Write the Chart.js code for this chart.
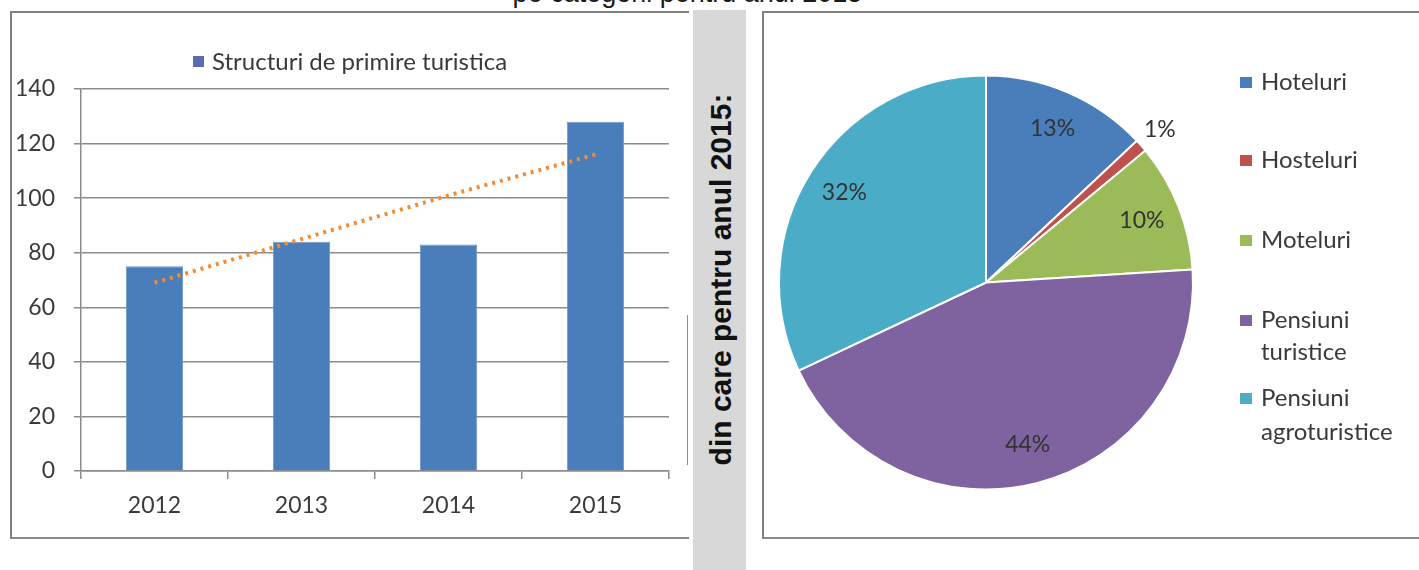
<!DOCTYPE html>
<html>
<head>
<meta charset="utf-8">
<script src="https://cdn.jsdelivr.net/npm/chart.js@4/dist/chart.umd.min.js"></script>
<style>
  html, body { margin: 0; padding: 0; background: #fff; }
  body { width: 1419px; height: 570px; position: relative; overflow: hidden; font-family: Lato, sans-serif; }
  #toptext { position: absolute; left: 0; width: 1375px; top: -20px; line-height: 27px; text-align: center;
             font-family: "Liberation Sans", Arial, sans-serif; font-size: 27px; color: #1a1a1a; z-index: 0; }
  .panel { position: absolute; background: #fff; z-index: 1; box-sizing: border-box; }
  #leftPanel { left: 10px; top: 11px; width: 679px; height: 528px; border-left: 2px solid #808080; border-top: 2px solid #808080; border-bottom: 2px solid #8c8c8c; }
  #leftEdge { position: absolute; left: 687px; top: 315px; width: 1px; height: 150px; background: #8a8a8a; z-index: 2; }
  #rightPanel { left: 762px; top: 11px; width: 670px; height: 528px; border-left: 2px solid #808080; border-top: 2px solid #808080; border-bottom: 2px solid #8c8c8c; }
  #strip { position: absolute; left: 693px; top: 10px; width: 53px; height: 560px; background: #d8d8d8; z-index: 1; }
  #stripText { position: absolute; left: 519.5px; top: 252.5px; width: 400px; height: 53px; line-height: 53px; text-align: center;
               transform: rotate(-90deg); font-family: "Liberation Sans", Arial, sans-serif; font-weight: bold; font-size: 30px; color: #111; z-index: 2; white-space: nowrap; }
  canvas { position: absolute; z-index: 2; }
  #barCanvas { left: 12px; top: 13px; }
  #pieCanvas { left: 764px; top: 13px; }
</style>
</head>
<body>
<div id="toptext">pe categorii pentru anul 2015</div>
<div class="panel" id="leftPanel"></div>
<div id="leftEdge"></div>
<div id="strip"></div>
<div id="stripText">din care pentru anul 2015:</div>
<div class="panel" id="rightPanel"></div>
<canvas id="barCanvas" width="674" height="522"></canvas>
<canvas id="pieCanvas" width="655" height="522"></canvas>
<script>
// ---- data ----
const years = ['2012', '2013', '2014', '2015'];
const structuriValues = [75, 84, 83, 128];
const trendValues = [69, 85, 101, 116];
const barSeriesName = 'Structuri de primire turistica';
const yTicks = [0, 20, 40, 60, 80, 100, 120, 140];

const pieCategories = [['Hoteluri'], ['Hosteluri'], ['Moteluri'], ['Pensiuni', 'turistice'], ['Pensiuni', 'agroturistice']];
const piePercents = [13, 1, 10, 44, 32];
const pieColors = ['#4a7ebb', '#c0504d', '#9bbb59', '#7f63a1', '#4aacc6'];

const FONT = 'Lato, "Open Sans", sans-serif';
const TEXT = '#3a3a3a';

// ---- bar chart ----
const barLegendPlugin = {
  id: 'barLegend',
  afterDraw(chart) {
    const ctx = chart.ctx;
    ctx.save();
    const ds = chart.data.datasets[0];
    ctx.fillStyle = '#5b6cae';
    ctx.fillRect(181, 43, 11, 11);
    ctx.fillStyle = TEXT;
    ctx.font = '24px ' + FONT;
    ctx.textBaseline = 'middle';
    ctx.textAlign = 'left';
    ctx.fillText(ds.label, 200, 49);
    ctx.restore();
  }
};

new Chart(document.getElementById('barCanvas'), {
  data: {
    labels: years,
    datasets: [
      { type: 'bar', label: barSeriesName, data: structuriValues, backgroundColor: '#4a7ebb',
        borderColor: '#6f97c9', borderWidth: 1, categoryPercentage: 1, barPercentage: 0.39, order: 2 },
      { type: 'line', label: 'trend', data: trendValues, borderColor: '#f58a2e', borderWidth: 4,
        borderDash: [3, 5], pointRadius: 0, fill: false, tension: 0, order: 1 }
    ]
  },
  options: {
    responsive: false, animation: false, devicePixelRatio: 1,
    layout: { padding: { top: 76, right: 17, bottom: 0, left: 0 } },
    plugins: { legend: { display: false }, tooltip: { enabled: false } },
    scales: {
      x: {
        grid: { display: true, drawOnChartArea: false, drawTicks: true, tickLength: 8, color: '#8c8c8c', lineWidth: 1.5, offset: true },
        border: { display: true, color: '#8c8c8c', width: 1.5 },
        ticks: { color: TEXT, font: { family: FONT, size: 23 }, padding: 13 },
        afterFit: (s) => { s.height = 64; }
      },
      y: {
        min: 0, max: 140,
        afterBuildTicks: (s) => { s.ticks = yTicks.map(v => ({ value: v })); },
        grid: { color: '#8c8c8c', lineWidth: 1.5, tickLength: 7 },
        border: { display: true, color: '#8c8c8c', width: 1.5 },
        ticks: { color: TEXT, font: { family: FONT, size: 23 }, padding: 19 },
        afterFit: (s) => { s.width = 69; }
      }
    }
  },
  plugins: [barLegendPlugin]
});

// ---- pie chart ----
const pieExtrasPlugin = {
  id: 'pieExtras',
  afterDraw(chart) {
    const ctx = chart.ctx;
    const meta = chart.getDatasetMeta(0);
    const data = chart.data.datasets[0].data;
    ctx.save();
    ctx.font = '23px ' + FONT;
    ctx.fillStyle = '#333';
    ctx.textAlign = 'center';
    ctx.textBaseline = 'middle';
    meta.data.forEach((arc, i) => {
      const mid = (arc.startAngle + arc.endAngle) / 2;
      const f = data[i] < 3 ? 1.12 : 0.81;
      const r = arc.outerRadius * f;
      ctx.fillText(data[i] + '%', arc.x + Math.cos(mid) * r, arc.y + Math.sin(mid) * r);
    });
    // legend
    const ys = [[69], [147], [227], [307, 339], [385, 419]];
    ctx.textAlign = 'left';
    ctx.font = '24px ' + FONT;
    chart.data.labels.forEach((lab, i) => {
      ctx.fillStyle = chart.data.datasets[0].backgroundColor[i];
      ctx.fillRect(476, ys[i][0] - 5, 12, 11);
      ctx.fillStyle = TEXT;
      lab.forEach((line, j) => ctx.fillText(line, 497, ys[i][j]));
    });
    ctx.restore();
  }
};

new Chart(document.getElementById('pieCanvas'), {
  type: 'pie',
  data: {
    labels: pieCategories,
    datasets: [{ data: piePercents, backgroundColor: pieColors, borderColor: '#ffffff', borderWidth: 2 }]
  },
  options: {
    responsive: false, animation: false, devicePixelRatio: 1,
    layout: { padding: { left: 14, right: 225, top: 61.5, bottom: 44.5 } },
    plugins: { legend: { display: false }, tooltip: { enabled: false } }
  },
  plugins: [pieExtrasPlugin]
});
</script>
</body>
</html>
